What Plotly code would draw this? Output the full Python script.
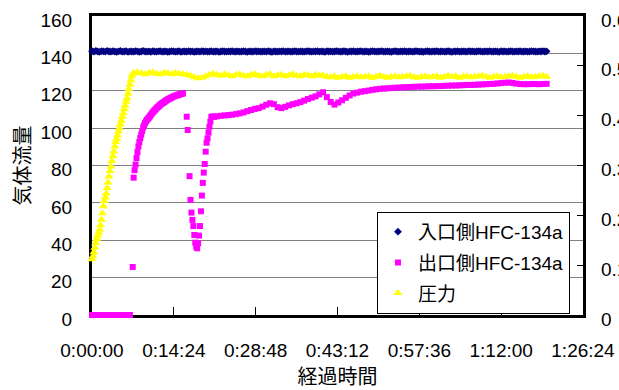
import plotly.graph_objects as go

# x axis: elapsed time in seconds, labelled as h:mm:ss
tick_seconds = [0, 864, 1728, 2592, 3456, 4320, 5184]
tick_labels = ["0:00:00", "0:14:24", "0:28:48", "0:43:12", "0:57:36", "1:12:00", "1:26:24"]

# inlet HFC-134a gas flow, sampled every 20 s
inlet_t = list(range(0, 4801, 20))
inlet_flow = [
    141.2, 140.9, 141.3, 141.0, 140.8, 141.2, 141.1, 140.9, 141.3, 141.0,
    140.9, 141.2, 141.0, 140.8, 141.1, 141.3, 140.9, 141.0, 141.2, 140.8,
    141.1, 141.0, 140.9, 141.2, 141.1, 140.8, 141.0, 141.3, 141.0, 140.9,
    141.1, 140.8, 141.2, 141.0, 140.9, 141.1, 141.2, 140.9, 141.0, 141.1,
    140.8, 141.0, 141.2, 141.1, 140.9, 141.0, 141.2, 140.8, 141.1, 141.0,
    140.9, 141.2, 141.0, 141.1, 140.8, 141.0, 141.1, 140.9, 141.2, 141.0,
    141.1, 140.9, 141.0, 141.2, 140.9, 141.0, 141.1, 140.8, 141.0, 141.2,
    141.0, 140.9, 141.1, 141.0, 141.2, 140.9, 141.0, 141.1, 140.9, 141.0,
    141.2, 141.0, 140.8, 141.1, 141.0, 140.9, 141.2, 141.0, 141.1, 140.9,
    141.0, 141.1, 140.9, 141.2, 141.0, 140.8, 141.1, 141.0, 140.9, 141.1,
    141.0, 141.2, 140.9, 141.0, 141.1, 140.9, 141.0, 141.2, 141.0, 140.9,
    141.1, 141.0, 140.9, 141.1, 141.2, 141.0, 140.9, 141.1, 141.0, 141.2,
    140.9, 141.1, 141.0, 140.8, 141.2, 141.0, 141.1, 140.9, 141.0, 141.2,
    141.1, 140.9, 141.0, 141.2, 141.0, 140.8, 141.1, 141.0, 141.2, 140.9,
    141.0, 141.1, 141.2, 140.9, 141.0, 141.1, 140.8, 141.0, 141.2, 141.1,
    140.9, 141.0, 141.1, 141.2, 140.9, 141.0, 141.1, 141.0, 140.8, 141.1,
    141.2, 141.0, 140.9, 141.1, 141.0, 141.2, 140.9, 141.0, 141.1, 140.9,
    141.0, 141.2, 141.1, 140.9, 141.0, 140.8, 141.1, 141.2, 141.0, 140.9,
    141.1, 141.0, 141.2, 140.9, 141.0, 141.1, 140.9, 141.0, 141.2, 141.0,
    140.8, 141.1, 141.0, 141.2, 140.9, 141.0, 141.1, 141.0, 140.9, 141.2,
    141.0, 141.1, 140.9, 141.0, 141.2, 141.1, 140.9, 141.0, 141.1, 141.0,
    141.2, 140.9, 141.0, 141.1, 141.0, 140.8, 141.2, 141.0, 141.1, 140.9,
    141.0, 141.2, 141.0, 140.9, 141.1, 141.0, 141.2, 140.9, 141.0, 141.1,
    140.9, 141.0, 141.2, 141.1, 141.0, 140.9, 141.1, 141.0, 141.2, 141.0,
    141.1,
]

# outlet HFC-134a gas flow: idle period (40 s samples)
outlet_t_idle = list(range(0, 401, 40))
outlet_flow_idle = [0.0, 0.0, 0.0, 0.0, 0.0, 0.0, 0.0, 0.0, 0.0, 0.0, 0.0]

# outlet flow: start-up and disturbance (10 s samples, None = no reading)
outlet_t_start = list(range(430, 1291, 10))
outlet_flow_start = [
    25.7, 73.5, 77.5, 80.5, 84.0, 87.2, 90.2, 92.6, 94.7, 96.5,
    98.5, 100.4, 101.6, 102.7, 103.6, 104.4, 105.0, 105.6, 106.2, 107.0,
    107.7, 108.4, 108.9, 109.5, 110.0, 110.6, 111.1, 111.5, 112.0, 112.5,
    112.9, 113.3, 113.6, 113.9, 114.3, 114.7, 115.0, 115.3, 115.6, 115.8,
    116.1, 116.4, 116.7, 116.9, 117.1, 117.3, 117.5, 117.6, 117.8, 118.0,
    118.1, 118.3, 118.4, 118.6, None, None, None, 106.1, 99.0, None,
    74.3, 61.6, 54.8, 50.9, 47.6, 42.8, 38.7, 36.6, 35.7, 38.4,
    42.5, 47.6, 55.5, 63.9, 70.7, 76.2, 80.8, 87.4, 92.2, 94.5,
    97.6, 100.7, 103.5, 106.0, 106.1, 106.2, 106.1,
]

# outlet flow: steady operation (40 s samples)
outlet_t_steady = list(range(1320, 4801, 40))
outlet_flow_steady = [
    106.3, 106.6, 106.8, 107.0, 107.2, 107.5, 107.9, 108.4, 109.1, 109.7,
    110.3, 110.7, 111.5, 112.5, 113.3, 112.8, 111.2, 110.7, 111.4, 112.2,
    112.8, 113.3, 113.9, 114.7, 115.6, 116.3, 117.0, 118.1, 119.2, 116.6,
    114.0, 112.6, 113.7, 114.9, 116.2, 117.5, 118.5, 119.0, 119.5, 119.8,
    120.1, 120.5, 120.8, 121.0, 121.2, 121.3, 121.5, 121.6, 121.7, 121.8,
    121.9, 122.0, 122.1, 122.2, 122.2, 122.3, 122.4, 122.4, 122.5, 122.5,
    122.6, 122.7, 122.8, 122.8, 122.9, 123.0, 123.1, 123.1, 123.2, 123.3,
    123.4, 123.5, 123.6, 123.7, 123.9, 124.1, 124.3, 124.4, 124.2, 123.8,
    123.6, 123.5, 123.5, 123.6, 123.6, 123.5, 123.6, 123.7,
]

# pressure (right axis): pressurisation ramp, 10 s samples
pressure_t_rise = list(range(0, 441, 10))
pressure_rise = [
    0.112, 0.118, 0.126, 0.135, 0.144, 0.152, 0.159, 0.165, 0.171, 0.180,
    0.191, 0.204, 0.218, 0.229, 0.236, 0.244, 0.255, 0.266, 0.278, 0.289,
    0.298, 0.309, 0.319, 0.328, 0.338, 0.347, 0.353, 0.360, 0.368, 0.375,
    0.383, 0.390, 0.398, 0.405, 0.413, 0.420, 0.428, 0.435, 0.444, 0.453,
    0.462, 0.471, 0.479, 0.484, 0.486,
]

# pressure: steady operation, 40 s samples
pressure_t_steady = list(range(480, 4801, 40))
pressure_steady = [
    0.487, 0.485, 0.483, 0.486, 0.487, 0.484, 0.483, 0.486, 0.485, 0.483,
    0.486, 0.484, 0.483, 0.482, 0.480, 0.477, 0.475, 0.476, 0.479, 0.482,
    0.484, 0.482, 0.480, 0.483, 0.481, 0.479, 0.482, 0.483, 0.480, 0.479,
    0.482, 0.483, 0.480, 0.479, 0.482, 0.483, 0.479, 0.481, 0.482, 0.479,
    0.481, 0.483, 0.480, 0.479, 0.482, 0.481, 0.479, 0.482, 0.480, 0.481,
    0.478, 0.477, 0.479, 0.476, 0.478, 0.479, 0.476, 0.478, 0.479, 0.477,
    0.478, 0.479, 0.476, 0.478, 0.480, 0.478, 0.476, 0.478, 0.479, 0.477,
    0.478, 0.479, 0.480, 0.477, 0.476, 0.478, 0.479, 0.477, 0.478, 0.479,
    0.476, 0.478, 0.480, 0.478, 0.479, 0.476, 0.478, 0.479, 0.477, 0.478,
    0.479, 0.480, 0.478, 0.476, 0.478, 0.479, 0.477, 0.478, 0.479, 0.480,
    0.478, 0.476, 0.478, 0.479, 0.477, 0.478, 0.479, 0.480, 0.478,
]

LATIN = "Liberation Sans, Arial, Noto Sans CJK JP, sans-serif"
CJK = "Noto Sans CJK JP, Liberation Sans, sans-serif"

fig = go.Figure()

fig.add_trace(go.Scatter(
    x=inlet_t, y=inlet_flow, mode="markers", name="入口側HFC-134a",
    legendgroup="inlet",
    marker=dict(symbol="diamond", size=6, color="#000080"),
    cliponaxis=False,
))
fig.add_trace(go.Scatter(
    x=outlet_t_idle + outlet_t_start + outlet_t_steady,
    y=outlet_flow_idle + outlet_flow_start + outlet_flow_steady,
    mode="markers", name="出口側HFC-134a", legendgroup="outlet",
    marker=dict(symbol="square", size=6, color="#FF00FF"),
    cliponaxis=False,
))
fig.add_trace(go.Scatter(
    x=pressure_t_rise + pressure_t_steady,
    y=pressure_rise + pressure_steady,
    mode="markers", name="圧力", legendgroup="pressure", yaxis="y2",
    marker=dict(symbol="triangle-up", size=8, color="#FFFF00"),
    cliponaxis=False,
))

fig.update_layout(
    width=619, height=390,
    margin=dict(l=92, r=36, t=16, b=75),
    paper_bgcolor="white", plot_bgcolor="white",
    font=dict(family=LATIN, size=19, color="black"),
    showlegend=True,
    legend=dict(
        x=0.5804, y=0.345, xanchor="left", yanchor="top",
        bgcolor="white", bordercolor="black", borderwidth=1,
        font=dict(family=LATIN, size=19, color="black"),
        tracegroupgap=3, itemwidth=30,
    ),
    xaxis=dict(
        range=[0, 5184], tickmode="array", tickvals=tick_seconds, ticktext=tick_labels,
        ticks="inside", ticklen=8, tickcolor="black", tickwidth=1,
        showgrid=False, zeroline=False, automargin=False,
        showline=True, linecolor="black", linewidth=3, mirror=True,
        ticklabelstandoff=16, layer="below traces",
        title=dict(text="経過時間", font=dict(family=CJK, size=20), standoff=3),
    ),
    yaxis=dict(
        range=[0, 160], dtick=20, ticks="", showgrid=True, gridcolor="#808080", gridwidth=1,
        zeroline=False, showline=True, linecolor="black", linewidth=3, mirror=True,
        automargin=False,
        ticklabelstandoff=13, ticklabelshift=4, layer="below traces",
        title=dict(text="気体流量", font=dict(family=CJK, size=20), standoff=5),
    ),
    yaxis2=dict(
        range=[0, 0.6], dtick=0.1, overlaying="y", side="right",
        ticks="inside", ticklen=6, tickcolor="black", tickwidth=1,
        showgrid=False, zeroline=False, showline=False, automargin=False,
        ticklabelstandoff=17, ticklabelshift=4,
    ),
)

fig.write_html("out.html")
